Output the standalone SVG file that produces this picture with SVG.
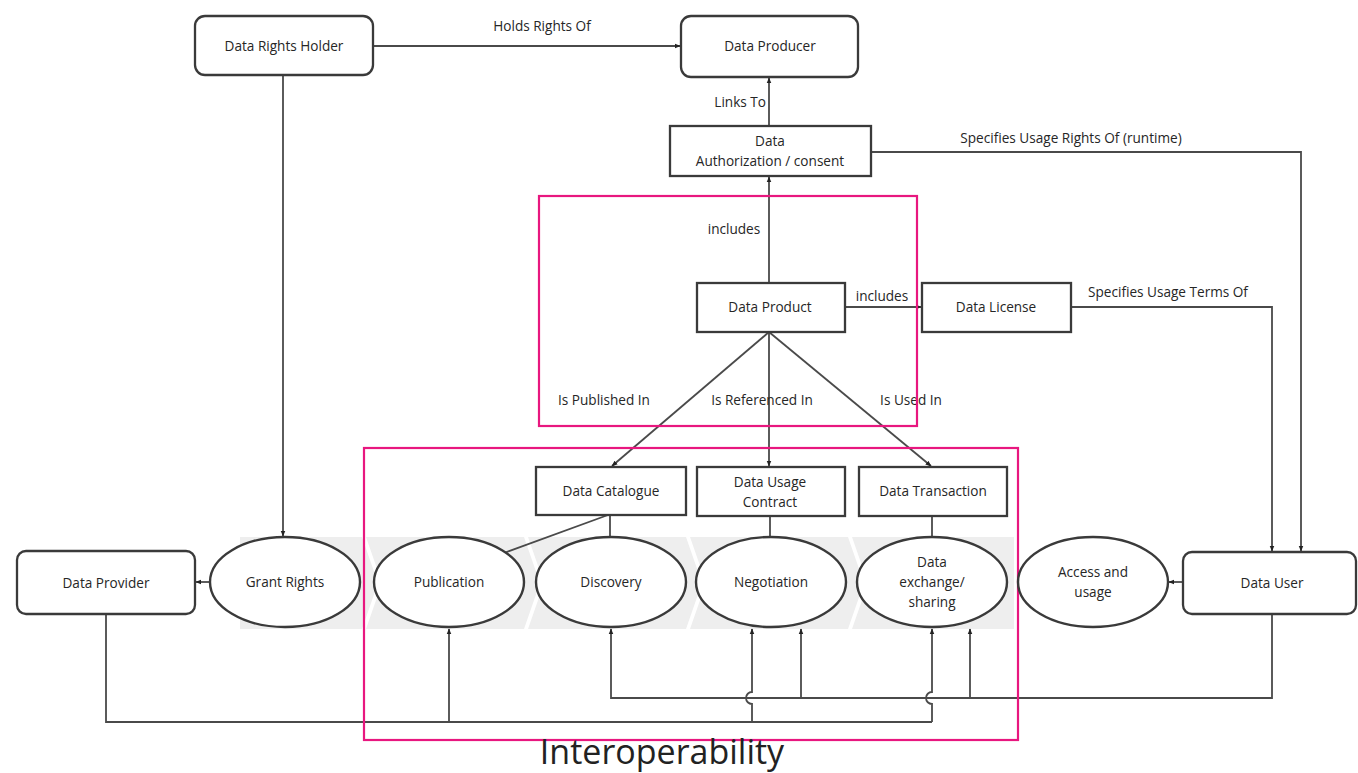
<svg xmlns="http://www.w3.org/2000/svg" width="1358" height="773" viewBox="0 0 1358 773">
  <style>
    .box { fill: #ffffff; stroke: #3a3a3a; stroke-width: 2.3; }
    .oval { fill: #ffffff; stroke: #3a3a3a; stroke-width: 2.4; }
    .lbl { font-family: "Open Sans", "Noto Sans", "Liberation Sans", sans-serif; font-size: 13.6px; fill: #262626; text-anchor: middle; }
    .edge { font-family: "Open Sans", "Noto Sans", "Liberation Sans", sans-serif; font-size: 13.6px; fill: #262626; }
    .wire { fill: none; stroke: #4a4a4a; stroke-width: 1.8; }
    .frame { fill: none; stroke: #e8177f; stroke-width: 2.2; }
    .band { fill: #eeeeee; }
  </style>
  <defs>
    <marker id="tip" viewBox="0 0 10 10" refX="9" refY="5" markerWidth="6" markerHeight="6" orient="auto" markerUnits="userSpaceOnUse">
      <path d="M0,1 L10,5 L0,9 Z" fill="#222"/>
    </marker>
  </defs>
  <rect width="1358" height="773" fill="#ffffff"/>

  <!-- process chevron band behind the lifecycle stages -->
  <g id="band">
    <polygon class="band" points="240,537 362,537 378,583 362,629 240,629"/>
    <polygon class="band" points="366,537 524,537 540,583 524,629 366,629 382,583"/>
    <polygon class="band" points="528,537 686,537 702,583 686,629 528,629 544,583"/>
    <polygon class="band" points="690,537 848,537 864,583 848,629 690,629 706,583"/>
    <polygon class="band" points="852,537 1014,537 1014,629 852,629 868,583"/>
  </g>

  <!-- connectors -->
  <g id="connectors">
    <line class="wire" x1="373" y1="46" x2="680" y2="46" marker-end="url(#tip)"/>
    <line class="wire" x1="769" y1="126" x2="769" y2="78" marker-end="url(#tip)"/>
    <polyline class="wire" points="871,152 1301,152 1301,551" marker-end="url(#tip)"/>
    <line class="wire" x1="769" y1="283" x2="769" y2="177" marker-end="url(#tip)"/>
    <line class="wire" x1="845" y1="307" x2="921" y2="307" marker-end="url(#tip)"/>
    <polyline class="wire" points="1071,307 1272,307 1272,551" marker-end="url(#tip)"/>
    <line class="wire" x1="769" y1="332" x2="612" y2="466" marker-end="url(#tip)"/>
    <line class="wire" x1="769" y1="332" x2="769" y2="466" marker-end="url(#tip)"/>
    <line class="wire" x1="769" y1="332" x2="931" y2="466" marker-end="url(#tip)"/>
    <line class="wire" x1="608" y1="515" x2="504" y2="553"/>
    <line class="wire" x1="610" y1="515" x2="610" y2="537"/>
    <line class="wire" x1="770" y1="516" x2="770" y2="537"/>
    <line class="wire" x1="932" y1="516" x2="932" y2="537"/>
    <line class="wire" x1="283" y1="75" x2="283" y2="536" marker-end="url(#tip)"/>
    <line class="wire" x1="210" y1="582" x2="196" y2="582" marker-end="url(#tip)"/>
    <line class="wire" x1="1183" y1="582" x2="1169" y2="582" marker-end="url(#tip)"/>
    <!-- provider feed along the bottom -->
    <polyline class="wire" points="106,614 106,722 932,722"/>
    <line class="wire" x1="449" y1="722" x2="449" y2="629" marker-end="url(#tip)"/>
    <path class="wire" d="M752,722 L752,704 A6,6 0 0 1 752,692 L752,629" marker-end="url(#tip)"/>
    <path class="wire" d="M932,722 L932,704 A6,6 0 0 1 932,692 L932,629" marker-end="url(#tip)"/>
    <!-- user feed along the bottom -->
    <polyline class="wire" points="1272,614 1272,698 611,698 611,629" marker-end="url(#tip)"/>
    <line class="wire" x1="801" y1="698" x2="801" y2="629" marker-end="url(#tip)"/>
    <line class="wire" x1="970" y1="698" x2="970" y2="629" marker-end="url(#tip)"/>
  </g>

  <!-- edge labels -->
  <g id="edge-labels">
    <text class="edge" x="542" y="31" text-anchor="middle">Holds Rights Of</text>
    <text class="edge" x="766" y="107" text-anchor="end">Links To</text>
    <text class="edge" x="1071" y="143" text-anchor="middle">Specifies Usage Rights Of (runtime)</text>
    <text class="edge" x="734" y="234" text-anchor="middle">includes</text>
    <text class="edge" x="882" y="301" text-anchor="middle">includes</text>
    <text class="edge" x="1168" y="297" text-anchor="middle">Specifies Usage Terms Of</text>
    <text class="edge" x="604" y="405" text-anchor="middle">Is Published In</text>
    <text class="edge" x="762" y="405" text-anchor="middle">Is Referenced In</text>
    <text class="edge" x="911" y="405" text-anchor="middle">Is Used In</text>
  </g>

  <!-- highlight frames -->
  <g id="frame-product">
    <rect class="frame" x="539" y="196" width="378" height="230"/>
  </g>
  <g id="frame-interoperability">
    <rect class="frame" x="364" y="448" width="654" height="292"/>
    <text x="662" y="764" text-anchor="middle" font-family="Open Sans, Noto Sans, Liberation Sans, sans-serif" font-size="34" fill="#222">Interoperability</text>
  </g>

  <!-- nodes -->
  <g id="data-rights-holder">
    <rect class="box" x="195" y="16" width="178" height="59" rx="10"/>
    <text class="lbl" x="284" y="51">Data Rights Holder</text>
  </g>
  <g id="data-producer">
    <rect class="box" x="681" y="16" width="177" height="61" rx="10"/>
    <text class="lbl" x="770" y="51">Data Producer</text>
  </g>
  <g id="data-authorization">
    <rect class="box" x="670" y="126" width="201" height="50"/>
    <text class="lbl" x="770" y="146">Data</text>
    <text class="lbl" x="770" y="166">Authorization / consent</text>
  </g>
  <g id="data-product">
    <rect class="box" x="697" y="283" width="148" height="49"/>
    <text class="lbl" x="770" y="312">Data Product</text>
  </g>
  <g id="data-license">
    <rect class="box" x="922" y="283" width="149" height="49"/>
    <text class="lbl" x="996" y="312">Data License</text>
  </g>
  <g id="data-catalogue">
    <rect class="box" x="536" y="467" width="150" height="48"/>
    <text class="lbl" x="611" y="496">Data Catalogue</text>
  </g>
  <g id="data-usage-contract">
    <rect class="box" x="697" y="467" width="148" height="49"/>
    <text class="lbl" x="770" y="487">Data Usage</text>
    <text class="lbl" x="770" y="507">Contract</text>
  </g>
  <g id="data-transaction">
    <rect class="box" x="859" y="467" width="148" height="49"/>
    <text class="lbl" x="933" y="496">Data Transaction</text>
  </g>
  <g id="data-provider">
    <rect class="box" x="17" y="551" width="178" height="63" rx="9"/>
    <text class="lbl" x="106" y="588">Data Provider</text>
  </g>
  <g id="data-user">
    <rect class="box" x="1183" y="552" width="173" height="62" rx="9"/>
    <text class="lbl" x="1272" y="588">Data User</text>
  </g>
  <g id="grant-rights">
    <ellipse class="oval" cx="285" cy="582" rx="75" ry="45"/>
    <text class="lbl" x="285" y="587">Grant Rights</text>
  </g>
  <g id="publication">
    <ellipse class="oval" cx="449" cy="582" rx="75" ry="45"/>
    <text class="lbl" x="449" y="587">Publication</text>
  </g>
  <g id="discovery">
    <ellipse class="oval" cx="611" cy="582" rx="75" ry="45"/>
    <text class="lbl" x="611" y="587">Discovery</text>
  </g>
  <g id="negotiation">
    <ellipse class="oval" cx="771" cy="582" rx="75" ry="45"/>
    <text class="lbl" x="771" y="587">Negotiation</text>
  </g>
  <g id="data-exchange">
    <ellipse class="oval" cx="932" cy="582" rx="75" ry="45"/>
    <text class="lbl" x="932" y="567">Data</text>
    <text class="lbl" x="932" y="587">exchange/</text>
    <text class="lbl" x="932" y="607">sharing</text>
  </g>
  <g id="access-usage">
    <ellipse class="oval" cx="1093" cy="582" rx="75" ry="45"/>
    <text class="lbl" x="1093" y="577">Access and</text>
    <text class="lbl" x="1093" y="597">usage</text>
  </g>
</svg>
